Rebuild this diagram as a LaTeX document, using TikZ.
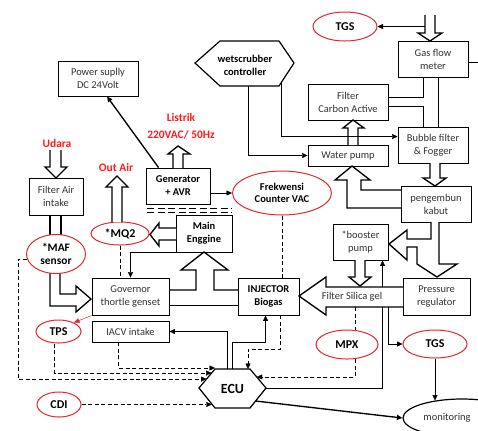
\documentclass[tikz,border=0pt]{standalone}
\usepackage{fontspec}
\setmainfont{Carlito}
\usetikzlibrary{arrows.meta,shapes.geometric,calc}
\pgfdeclarelayer{bg}
\pgfsetlayers{bg,main}
\definecolor{txtgray}{HTML}{333333}
\definecolor{lblred}{HTML}{FF1A1A}
\definecolor{ellred}{HTML}{E0282E}
\begin{document}
\begin{tikzpicture}[x=1bp,y=-1bp,
  line width=1.2bp,
  box/.style={draw, line width=0.9bp, fill=white, inner sep=0pt, align=center, font=\fontsize{10.5}{13}\selectfont, text=txtgray},
  bbox/.style={box, font=\fontsize{10.5}{13}\selectfont\bfseries, text=black},
  oval/.style={ellipse, draw=ellred, line width=1bp, fill=white, inner sep=0pt, align=center, font=\fontsize{12}{13}\selectfont\bfseries},
  redlbl/.style={text=lblred, font=\fontsize{11.5}{13}\selectfont\bfseries, inner sep=0pt},
  arr/.style={-{Triangle[length=5.5bp,width=5bp]}},
  dsh/.style={dash pattern=on 4bp off 2.5bp},
  hollow/.style={fill=white, line join=miter, line width=1.35bp},
]
\useasboundingbox (0,0) rectangle (478,430);
% boxes
\node[box, minimum width=80bp, minimum height=35bp] (ps) at (98,78.5) {Power suplly\\DC 24Volt};
\node[box, minimum width=70bp, minimum height=36bp] (gas) at (433,59) {Gas flow\\meter};
\node[box, minimum width=80bp, minimum height=36bp] (carbon) at (348,102) {Filter\\Carbon Active};
\node[box, minimum width=70bp, minimum height=36bp] (bubble) at (433,145) {Bubble filter\\\& Fogger};
\node[box, minimum width=80bp, minimum height=21bp] (water) at (348,155.5) {Water pump};
\node[box, minimum width=70bp, minimum height=36bp] (peng) at (436,204) {pengembun\\kabut};
\node[box, minimum width=55bp, minimum height=36bp] (booster) at (360.5,242) {*booster\\pump};
\node[box, minimum width=67bp, minimum height=37bp] (press) at (436.5,296.5) {Pressure\\regulator};
\node[bbox, minimum width=61bp, minimum height=37bp] (inj) at (268.5,296.5) {INJECTOR\\Biogas};
\node[bbox, minimum width=64bp, minimum height=36bp] (gen) at (178,186) {Generator\\+ AVR};
\node[bbox, minimum width=56bp, minimum height=37bp] (main) at (204,233.5) {Main\\Enggine};
\node[box, minimum width=77bp, minimum height=37bp] (gov) at (130.5,296.5) {Governor\\thortle genset};
\node[box, minimum width=77bp, minimum height=21bp] (iacv) at (130.5,331.5) {IACV intake};
\node[box, minimum width=54bp, minimum height=37bp] (fai) at (56,196.5) {Filter Air\\intake};

% ellipses
\node[oval, minimum width=64bp, minimum height=29bp] (tgs1) at (345,26.5) {TGS};
\node[oval, font=\fontsize{10.5}{12.5}\selectfont\bfseries, minimum width=99bp, minimum height=44bp] (frek) at (282,193) {Frekwensi\\Counter VAC};
\node[oval, minimum width=58bp, minimum height=23bp] (mq2) at (120,233.5) {*MQ2};
\node[oval, font=\fontsize{11.5}{13}\selectfont\bfseries, minimum width=59bp, minimum height=39bp] (maf) at (56,254) {*MAF\\sensor};
\node[oval, minimum width=45bp, minimum height=23bp] (tps) at (58.5,331.5) {TPS};
\node[oval, minimum width=44bp, minimum height=25bp] (cdi) at (59,404.5) {CDI};
\node[oval, minimum width=62bp, minimum height=29bp] (mpx) at (347,344.5) {MPX};
\node[oval, minimum width=64bp, minimum height=28bp] (tgs2) at (435,344) {TGS};
\node[ellipse, draw, fill=white, inner sep=0pt, minimum width=118bp, minimum height=38bp] (mon) at (462,418) {};
\node[font=\fontsize{10.5}{13}\selectfont, text=txtgray, inner sep=0pt] (montext) at (447,418) {monitoring};

% red labels
\node[redlbl] (listrik) at (181,118) {Listrik};
\node[redlbl] (vac) at (181,135) {220VAC/ 50Hz};
\node[redlbl] (udara) at (57,144) {Udara};
\node[redlbl] (outair) at (116,168) {Out Air};

% hexagons
\draw[fill=white] (195,63) -- (220,41) -- (279,41) -- (294,63) -- (279,86) -- (220,86) -- cycle;
\coordinate (wetA) at (281,83);
\coordinate (wetB) at (248,86);
\node[font=\fontsize{10.5}{13}\selectfont\bfseries, align=center, inner sep=0pt] (wet) at (245,65) {wetscrubber\\controller};
\draw[fill=white] (199,388) -- (215,369) -- (250,369) -- (266,388) -- (250,408) -- (215,408) -- cycle;
\coordinate (ecuL) at (199,388);
\coordinate (ecuTL) at (215,369);
\coordinate (ecuTR) at (250,369);
\coordinate (ecuR) at (266,388);
\coordinate (ecuBR) at (250,408);
\coordinate (ecuBL) at (215,408);
\node[font=\fontsize{14}{16}\selectfont\bfseries, inner sep=0pt] (ecu) at (232.5,388.5) {ECU};
\coordinate (ecuin1) at ($(ecuL)!0.47!(ecuTL)$);
\coordinate (ecuin2) at ($(ecuL)!0.79!(ecuTL)$);
\coordinate (ecuin4) at ($(ecuL)!0.8!(ecuBL)$);
\coordinate (ecuin5) at ($(ecuTR)!0.42!(ecuR)$);
\coordinate (ecuout) at ($(ecuR)!0.65!(ecuBR)$);

% silica coordinates
\coordinate (silA) at (355,307);
\coordinate (silB) at (388,307);

% background lines
\begin{pgfonlayer}{bg}
\draw[arr] (ecuR) -| ($(booster.south west)+(50,0)$);
\draw[dsh,arr] (silA) |- (ecuin5);
\draw[line width=1.35bp] (50,215) -- (50,245);
\draw[line width=1.35bp] (61,215) -- (61,245);
\draw[hollow] (50,265) -- (50,306) -- (76,306) -- (76,312) -- (91,299) -- (76,286) -- (76,294) -- (60,294) -- (60,265);
\end{pgfonlayer}

% hollow arrows
\draw[hollow] (425,15) -- (425,33) -- (418,33) -- (430,41) -- (442,33) -- (435,33) -- (435,15);
\draw[hollow] (348,145) -- (348,128) -- (343,128) -- (353,120) -- (364,128) -- (358,128) -- (358,145);
\draw[hollow] (430,163) -- (430,178) -- (423,178) -- (435,186) -- (446,178) -- (440,178) -- (440,163);
\draw[hollow] (401,208) -- (347,208) -- (347,180) -- (335,180) -- (352,166) -- (370,180) -- (361,180) -- (361,190) -- (401,190);
\draw[hollow] (431,222) -- (431,239) -- (407,239) -- (407,230) -- (389,244) -- (407,260) -- (407,247) -- (417,247) -- (417,264) -- (437,277) -- (457,264) -- (439,264) -- (439,222);
\draw[hollow] (355,260) -- (355,277) -- (349,277) -- (360,286) -- (371,277) -- (365,277) -- (365,260);
\draw[hollow] (403,287) -- (326,287) -- (326,277) -- (299,296) -- (326,315) -- (326,307) -- (403,307);
\node[font=\fontsize{10.5}{13}\selectfont, text=txtgray, inner sep=0pt] (silica) at (352,297) {Filter Silica gel};
\draw[hollow] (173,168) -- (173,154) -- (168,154) -- (178,146) -- (190,154) -- (183,154) -- (183,168);
\draw[hollow] (50,150) -- (50,167) -- (45,167) -- (56,178) -- (67,167) -- (61,167) -- (61,150);
\draw[hollow] (176,228) -- (159,228) -- (159,223) -- (150,234.5) -- (159,246) -- (159,240) -- (176,240);
\draw[hollow] (112,222) -- (112,187) -- (106,187) -- (117,176) -- (128,187) -- (122,187) -- (122,222);
\draw[line width=1.35bp] (169,290) -- (196,290) -- (196,270) -- (181,270) -- (204,252) -- (228,270) -- (214,270) -- (214,290) -- (238,290);
\draw (169,305) -- (238,305);

% connectors
\draw[arr] (425,26.5) -- (tgs1.east);
\draw ($(gas.east)+(0,3)$) -- (478,62);
\draw ($(gas.south west)+(26,0)$) |- ($(carbon.north east)+(0,14)$);
\draw ($(carbon.north east)+(0,23)$) -| ($(bubble.north west)+(26,0)$);
\draw ($(gas.south west)+(41,0)$) -- ($(bubble.north west)+(41,0)$);
\draw[arr] (wetA) |- ($(bubble.north west)+(0,10)$);
\draw[arr] (wetB) |- (water.west);
\draw[arr, line width=1.35bp] ($(gen.north west)+(13,0)$) -- ($(ps.south)+(9,0)$);
\draw[arr] (gen.east |- frek.west) -- (frek.west);
\draw[arr] (main.south west) -| (gov.north);
\draw[arr, draw=ellred, fill=ellred] (gov.south west) -- (tps.30);
\draw[arr] ($(ecuTL)+(12,0)$) |- (iacv.east);
\draw[arr] ($(ecuTL)+(17,0)$) |- ($(inj.south west)+(28,27)$) -- ($(inj.south west)+(28,0)$);
\draw[arr] (silB) |- (tgs2.west);
\draw[arr] (tgs2.south) -- ++(0,42);
\draw[arr, line width=1.35bp] (ecuout) -- (mon.west);

% dashed
\draw[dsh] (frek.south) -- (frek.south |- inj.north);
\draw[dsh,arr] ($(inj.south west)+(43,0)$) |- ($(ecuTL)+(33,-20)$) -- ($(ecuTL)+(33,0)$);
\draw[dsh] (mq2.south) -- (mq2.south |- gov.north);
\draw[dsh,arr] (maf.190) -- ++(-9,0) |- (ecuin1);
\draw[dsh,arr] ($(tps.south)+(-4,0)$) |- (ecuin2);
\draw[dsh,arr] ($(iacv.south west)+(27,0)$) |- ($(ecuTL)+(0,-1)$);
\draw[dsh,arr] (cdi.east) -- (cdi.east -| ecuin4);
\draw[dash pattern=on 7bp off 3.5bp] (147,208) -- (232,208);
\draw[dash pattern=on 7bp off 3.5bp] (147,212) -- (232,212);
\end{tikzpicture}
\end{document}
